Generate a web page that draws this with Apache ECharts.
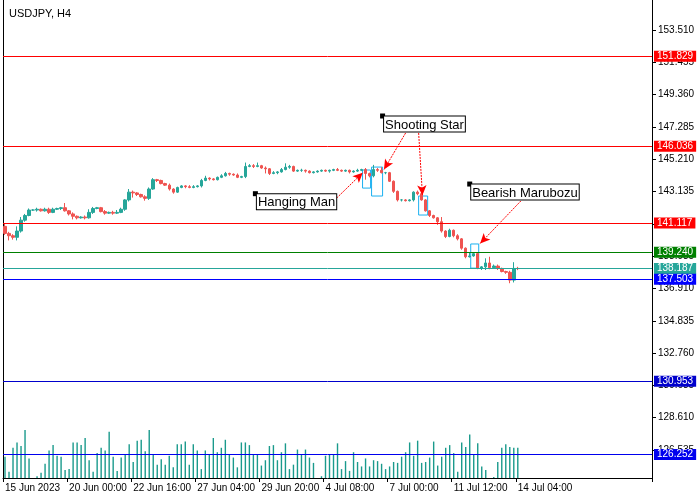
<!DOCTYPE html>
<html><head><meta charset="utf-8">
<script src="https://cdn.jsdelivr.net/npm/echarts@6/dist/echarts.min.js"></script>
<style>html,body{margin:0;padding:0;background:#fff}#c{width:700px;height:500px}</style>
</head><body><div id="c"></div>
<script>
const title = 'USDJPY, H4';
const slotCount = 162;
const closes = [140.45,140.3,140.2,140.6,141.3,141.6,141.95,141.95,142.0,141.9,142.0,141.8,142.0,142.05,142.1,141.9,141.7,141.55,141.45,141.5,141.45,141.8,142.05,142.1,141.85,141.75,141.8,141.75,141.8,142.0,142.6,143.1,143.05,142.95,142.8,142.7,143.3,143.9,143.85,143.65,143.55,143.3,143.1,143.4,143.5,143.45,143.4,143.45,143.5,143.85,144.0,143.95,143.9,144.05,144.15,144.3,144.25,144.2,144.05,144.1,144.75,144.8,144.75,144.8,144.65,144.6,144.3,144.35,144.4,144.55,144.7,144.75,144.45,144.5,144.5,144.45,144.35,144.4,144.45,144.5,144.45,144.5,144.55,144.5,144.45,144.5,144.4,144.45,144.5,144.55,144.3,144.15,144.55,144.5,144.35,144.35,143.8,143.15,142.6,142.6,142.55,142.6,143.1,143.0,142.6,141.9,141.6,141.45,141.2,140.6,140.25,140.65,140.3,140.1,139.5,138.95,139.0,139.15,138.2,138.3,138.55,138.25,138.35,138.2,138.0,137.95,137.45,138.2,138.19];
const firstOpen = 140.9;
const wickUp = [.2,.1,.1,.3,.2,.1,.1,.05,.1,.05,.1,.1,.1,.05,.05,.3,.05,.1,.05,.05,.1,.2,.1,.05,.05,.1,.05,.1,.15,.1,.05,.2,.1,.05,.05,.1,.1,.1,.05,.05,.05,.1,.05,.05,.05,.05,.1,.1,.05,.1,.15,.05,.05,.05,.1,.1,.05,.05,.1,.05,.25,.1,.1,.2,.05,.1,.05,.1,.05,.1,.25,.1,.05,.05,.1,.05,.05,.05,.05,.05,.05,.05,.05,.1,.05,.05,.05,.05,.1,.05,.1,.05,.3,.1,.2,.05,.05,.05,.05,.05,.05,.05,.05,.1,.1,.05,.05,.05,.05,.3,.05,.1,.05,.1,.05,.05,.2,.05,.05,.05,.3,.4,.1,.1,.05,.05,.1,.4,.1];
const wickDn = [.1,.3,.15,.2,.1,.1,.05,.05,.1,.05,.05,.1,.05,.05,.1,.05,.1,.2,.1,.05,.1,.05,.1,.05,.05,.1,.05,.1,.05,.05,.1,.1,.3,.1,.05,.15,.1,.05,.1,.05,.05,.1,.1,.05,.05,.1,.05,.05,.05,.1,.05,.1,.05,.05,.05,.05,.1,.05,.05,.05,.1,.05,.1,.05,.05,.3,.1,.05,.1,.05,.05,.1,.05,.05,.1,.1,.05,.05,.05,.05,.05,.1,.05,.05,.05,.05,.1,.05,.05,.05,.4,.1,.1,.1,.05,.1,.05,.1,.1,.1,.05,.05,.1,.1,.05,.05,.1,.05,.2,.1,.1,.05,.1,.1,.1,.1,.05,.05,.05,.1,.2,.1,.05,.1,.05,.1,.2,.15,.1];
const volumes = [24,7,34,40,36,55,22,0,2,6,16,31,37,25,24,9,10,40,40,37,45,20,7,28,34,31,52,24,8,23,27,38,18,42,43,30,56,26,15,21,15,25,12,38,38,41,15,38,31,10,31,27,45,29,34,43,26,23,12,40,40,37,27,26,14,20,36,37,20,29,39,10,15,32,27,32,23,17,0,2,25,26,27,39,10,19,8,29,18,13,22,13,20,19,16,10,13,18,17,24,29,40,25,42,17,18,23,41,14,24,34,37,28,7,40,35,49,26,39,13,9,0,1,18,34,38,35,34,34];
const tickLabels = ['15 Jun 2023','20 Jun 00:00','22 Jun 16:00','27 Jun 04:00','29 Jun 20:00','4 Jul 08:00','7 Jul 00:00','11 Jul 12:00','14 Jul 04:00'];
const priceTicks = [153.510,151.455,149.360,147.285,145.210,143.135,141.060,138.985,136.910,134.835,132.760,130.685,128.610,126.535];
const levels = [
  {v:151.829,c:'#ff0000',t:'151.829'},{v:146.036,c:'#ff0000',t:'146.036'},{v:141.117,c:'#ff0000',t:'141.117'},
  {v:139.240,c:'#008000',t:'139.240'},{v:138.187,c:'#26a69a',t:'138.187'},{v:137.503,c:'#0000ff',t:'137.503'},
  {v:130.953,c:'#0000cc',t:'130.953'},{v:126.252,c:'#0000ee',t:'126.252'}];
const notes = [
  {text:'Hanging Man', at:[62.5,143.0], arrows:[[[81.75,142.46],[89.3,144.35]]]},
  {text:'Shooting Star', at:[94.25,147.99], arrows:[[[100,146.9],[94.6,144.55]],[[103.25,146.9],[104.2,142.9]]]},
  {text:'Bearish Marubozu', at:[116,143.62], arrows:[[[128.75,142.53],[118.6,139.8]]]}];
const boxes = [[[89.25,144.52],[91.25,143.36]],[[91.5,144.71],[94.25,142.85]],[[103.25,142.85],[105.5,141.63]],[[116.25,139.77],[118.25,138.22]]];

const cats = Array.from({length:slotCount},(_, i)=>String(i));
const ohlc = closes.map((c,i)=>{const o=i?closes[i-1]:firstOpen;return [o,c,Math.min(o,c)-wickDn[i],Math.max(o,c)+wickUp[i]];});
const font = 'Liberation Sans';
const chart = echarts.init(document.getElementById('c'));
chart.setOption({
  animation:false,
  title:{text:title,left:4,top:3,textStyle:{fontSize:11,fontWeight:'normal',color:'#000',fontFamily:font}},
  grid:[{left:3,right:48,top:0,bottom:22},{left:3,right:48,top:430,bottom:22}],
  xAxis:[
    {type:'category',data:cats,gridIndex:0,boundaryGap:true,
     axisLine:{onZero:false,lineStyle:{color:'#000'}},axisTick:{show:true,interval:(i)=>i%16===0&&i<=128,lineStyle:{color:'#000'},length:4},
     axisLabel:{interval:(i)=>i%16===0&&i<=128,formatter:(v,i)=>tickLabels[i/16]||'',align:'left',margin:5,color:'#000',fontSize:10,fontFamily:font}},
    {type:'value',gridIndex:0,min:-0.5,max:slotCount-0.5,show:false},
    {type:'category',data:cats,gridIndex:1,show:false}],
  yAxis:[
    {type:'value',position:'right',min:124.74,max:155.44,gridIndex:0,splitLine:{show:false},
     axisLine:{show:true,onZero:false,lineStyle:{color:'#000'}},axisTick:{show:true,customValues:priceTicks,length:4,lineStyle:{color:'#000'}},
     axisLabel:{customValues:priceTicks,formatter:(v)=>v.toFixed(3),color:'#000',fontSize:10,fontFamily:font,margin:6}},
    {type:'value',gridIndex:1,min:0,max:54,show:false}],
  graphic:[{type:'line',shape:{x1:3.5,y1:0,x2:3.5,y2:478},style:{stroke:'#000',lineWidth:1},silent:true},
           {type:'line',shape:{x1:652.5,y1:0,x2:652.5,y2:478},style:{stroke:'#000',lineWidth:1},silent:true}],
  series:[
    {type:'candlestick',data:ohlc,xAxisIndex:0,yAxisIndex:0,barWidth:3,
     itemStyle:{color:'#26a69a',color0:'#ef5350',borderColor:'#26a69a',borderColor0:'#ef5350',borderWidth:1},
     markLine:{silent:true,symbol:'none',animation:false,
       data:levels.map(l=>({yAxis:l.v,lineStyle:{color:l.c,width:1,type:'solid'},
         label:{show:true,position:'end',formatter:l.t,color:'#fff',backgroundColor:l.c,padding:[1,3,0,3],fontSize:10,fontFamily:font,distance:2}}))}},
    {type:'bar',data:volumes,xAxisIndex:2,yAxisIndex:1,barWidth:1.4,itemStyle:{color:'#1a9a8c'}},
    {type:'scatter',data:[],xAxisIndex:1,yAxisIndex:0,
     markArea:{silent:true,data:boxes.map(b=>[{coord:b[0],itemStyle:{color:'rgba(0,0,0,0)',borderColor:'#1ab0f0',borderWidth:1}},{coord:b[1]}])},
     markLine:{silent:true,symbol:['none','arrow'],symbolSize:[7,10],
       data:notes.flatMap(n=>n.arrows.map(a=>[{coord:a[0],lineStyle:{color:'#ff0000',width:1,type:[2,1]}},{coord:a[1]}])),label:{show:false}},
     markPoint:{silent:true,symbol:'rect',symbolSize:5,itemStyle:{color:'#000'},
       data:notes.map(n=>({coord:n.at,label:{show:true,position:'insideTopLeft',offset:[-1,-2],formatter:n.text,color:'#000',fontSize:13,fontFamily:font,
         backgroundColor:'#fff',borderColor:'#000',borderWidth:1,padding:[2,1,0,1]}}))}}
  ]
});
</script></body></html>
